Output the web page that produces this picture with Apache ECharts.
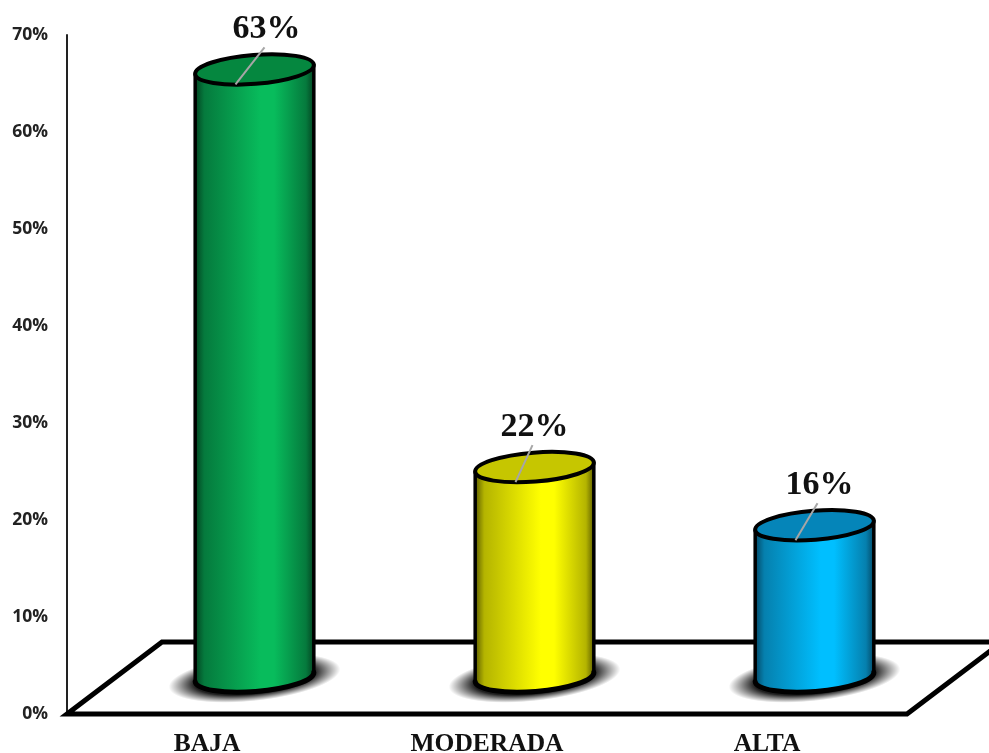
<!DOCTYPE html>
<html>
<head>
<meta charset="utf-8">
<style>html,body{margin:0;padding:0;background:#fff}#chart{width:989px;height:753px}</style>
<script src="https://cdn.jsdelivr.net/npm/echarts@6/dist/echarts.min.js"></script>
</head>
<body>
<div id="chart"></div>
<script>
const categories = ['BAJA', 'MODERADA', 'ALTA'];
const values = [63, 22, 16];
const tickMax = 70;
const tickStep = 10;

// Cylinder colours: edge of the shaded wall, half-lit wall, lit wall, top cap
const edgeColors = ['#03381c', '#4c4c00', '#043d57'];
const midColors = ['#057a3d', '#b4b400', '#0580ae'];
const wallColors = ['#08BC5C', '#FFFF00', '#00BFFF'];
const capColors = ['#05873F', '#C6C600', '#0585B9'];
// Sideways nudge of each value label and its leader line
const labelShift = [10, -2, 3];

// Perspective of the floor, in pixels
const DEPTH_X = 95, DEPTH_Y = 72;
const BASE_LIFT = 37, CAP_LIFT = 33.5;
const RX = 59.5, RY = 14.5, TILT_DEG = -4.5;

function floorItem(params, api) {
  const c = params.coordSys;
  const x0 = c.x, x1 = c.x + c.width, y0 = c.y + c.height;
  return {
    type: 'polygon',
    shape: { points: [[x0, y0], [x1, y0], [x1 + DEPTH_X, y0 - DEPTH_Y], [x0 + DEPTH_X, y0 - DEPTH_Y]] },
    style: { fill: '#fff', stroke: '#000', lineWidth: 5, lineJoin: 'miter' }
  };
}

function cylinderItem(params, api) {
  const i = api.value(0), v = api.value(1);
  const base = api.coord([i, 0]), top = api.coord([i, v]);
  const cx = base[0] + DEPTH_X / 2, by = base[1] - BASE_LIFT, ty = top[1] - CAP_LIFT;
  const t = TILT_DEG * Math.PI / 180;
  const ex = RX * Math.cos(t), ey = RX * Math.sin(t);
  const arc = `A${RX} ${RY} ${TILT_DEG} 0 0 ${cx + ex} ${by + ey}`;
  const wall = `M${cx - ex} ${ty - ey} L${cx - ex} ${by - ey} ${arc} L${cx + ex} ${ty + ey} Z`;
  const rim = `M${cx - ex} ${by - ey} ${arc}`;
  const shift = labelShift[i];
  return {
    type: 'group',
    children: [
      {
        // Soft contact shadow on the floor
        type: 'circle',
        shape: { cx: 0, cy: 0, r: 23 },
        x: cx, y: by + 1, scaleX: 3.75, scaleY: 1, rotation: -1.4 * t,
        style: {
          fill: {
            type: 'radial', x: 0.5, y: 0.5, r: 0.5,
            colorStops: [
              { offset: 0, color: 'rgba(0,0,0,0.95)' },
              { offset: 0.7, color: 'rgba(0,0,0,0.88)' },
              { offset: 0.86, color: 'rgba(0,0,0,0.4)' },
              { offset: 1, color: 'rgba(0,0,0,0)' }
            ]
          }
        }
      },
      {
        type: 'path',
        shape: { pathData: wall },
        style: {
          stroke: '#000', lineWidth: 3.5, lineJoin: 'round',
          fill: {
            type: 'linear', x: 0, y: 0, x2: 1, y2: 0,
            colorStops: [
              { offset: 0, color: edgeColors[i] },
              { offset: 0.09, color: midColors[i] },
              { offset: 0.55, color: wallColors[i] },
              { offset: 0.66, color: wallColors[i] },
              { offset: 0.92, color: midColors[i] },
              { offset: 1, color: edgeColors[i] }
            ]
          }
        }
      },
      {
        type: 'path',
        shape: { pathData: rim },
        style: { fill: 'none', stroke: '#000', lineWidth: 5, lineCap: 'round' }
      },
      {
        type: 'ellipse',
        shape: { cx: 0, cy: 0, rx: RX, ry: RY },
        x: cx, y: ty, rotation: -t,
        style: { fill: capColors[i], stroke: '#000', lineWidth: 4 }
      },
      {
        type: 'line',
        shape: { x1: cx - 19, y1: ty + 15, x2: cx + shift, y2: ty - 22 },
        style: { stroke: '#a6a6a6', lineWidth: 2 }
      },
      {
        type: 'text',
        x: cx + shift + 2, y: ty - 40,
        style: {
          text: v + '%', align: 'center', verticalAlign: 'middle',
          font: 'bold 34px "Liberation Serif"', fill: '#111'
        }
      }
    ]
  };
}

const chart = echarts.init(document.getElementById('chart'), null, { renderer: 'canvas' });
chart.setOption({
  animation: false,
  backgroundColor: '#fff',
  grid: { left: 67, right: 82, top: 35, bottom: 39, containLabel: false, outerBoundsMode: 'none' },
  xAxis: {
    type: 'category',
    data: categories,
    axisLine: { show: false },
    axisTick: { show: false },
    axisLabel: {
      margin: 17,
      color: '#111',
      fontFamily: 'Liberation Serif',
      fontWeight: 'bold',
      fontSize: 25.5
    }
  },
  yAxis: {
    type: 'value',
    min: 0,
    max: tickMax,
    interval: tickStep,
    splitLine: { show: false },
    axisTick: { show: false },
    axisLine: { show: true, lineStyle: { color: '#222', width: 2 } },
    axisLabel: {
      formatter: '{value}%',
      margin: 19,
      color: '#222',
      fontFamily: 'Open Sans',
      fontWeight: 'bold',
      fontSize: 17.5
    }
  },
  series: [
    { type: 'custom', z: 1, silent: true, clip: false, renderItem: floorItem, data: [0] },
    {
      type: 'custom', z: 2, silent: true, clip: false, renderItem: cylinderItem,
      encode: { x: 0, y: 1 },
      data: values.map((v, i) => [i, v])
    }
  ]
});
</script>
</body>
</html>
